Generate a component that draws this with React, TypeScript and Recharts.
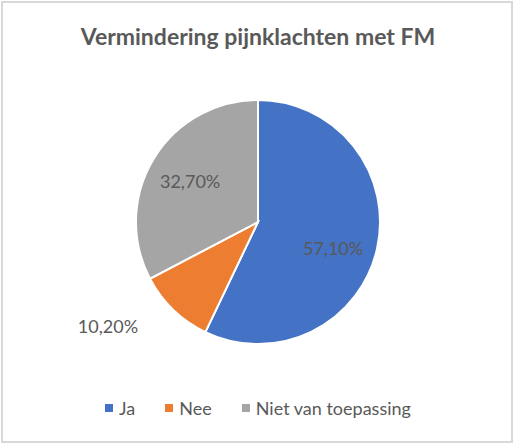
import { PieChart, Pie, Cell, Legend } from 'recharts'

const categories = ['Ja', 'Nee', 'Niet van toepassing']
const shares = [57.1, 10.2, 32.7]
const colors = ['#4472C4', '#ED7D31', '#A5A5A5']

const data = categories.map((name, i) => ({ name, value: shares[i] }))

const RAD = Math.PI / 180
const FONT = 'Lato, "Open Sans", sans-serif'
const TEXT = '#595959'
const LABEL_SIZE = 18

// eslint-disable-next-line @typescript-eslint/no-explicit-any
function SliceLabel(props: any) {
  const { cx, cy, midAngle, outerRadius, value, index } = props
  const label = value.toFixed(2).replace('.', ',') + '%'
  if (index === 1) {
    // small slice: Excel puts it outside, bottom-left
    const r = outerRadius + 22
    const x = cx + r * Math.cos(-midAngle * RAD) - 20
    const y = cy + r * Math.sin(-midAngle * RAD)
    return (
      <text x={x} y={y} textAnchor="end" dominantBaseline="central" fill={TEXT} fontSize={LABEL_SIZE} fontFamily={FONT}>
        {label}
      </text>
    )
  }
  // Excel's best-fit nudges the big slice's label a bit lower
  const angle = index === 0 ? midAngle - 6 : midAngle
  const r = outerRadius * 0.65
  const x = cx + r * Math.cos(-angle * RAD)
  const y = cy + r * Math.sin(-angle * RAD)
  return (
    <text x={x} y={y} textAnchor="middle" dominantBaseline="central" fill={TEXT} fontSize={LABEL_SIZE} fontFamily={FONT}>
      {label}
    </text>
  )
}

function LegendContent() {
  return (
    <div style={{ display: 'flex', justifyContent: 'center', gap: 30, fontFamily: FONT, fontSize: LABEL_SIZE, color: TEXT }}>
      {categories.map((c, i) => (
        <span key={c} style={{ display: 'flex', alignItems: 'center' }}>
          <span style={{ width: 8, height: 8, background: colors[i], marginRight: 6 }} />
          {c}
        </span>
      ))}
    </div>
  )
}

export default function App() {
  return (
    <div style={{ position: 'fixed', left: 0, top: 0, width: 516, height: 445, background: '#fff' }}>
      <div
        style={{
          position: 'absolute', left: 1, top: 1, width: 512, height: 442,
          border: '2px solid #D9D9D9', boxSizing: 'border-box',
        }}
      />
      <div
        style={{
          position: 'absolute', left: 0, top: 22, width: 516, textAlign: 'center',
          fontFamily: FONT, fontWeight: 700, fontSize: 23, color: TEXT,
        }}
      >
        Vermindering pijnklachten met FM
      </div>
      <div style={{ position: 'absolute', left: 0, top: 0 }}>
        <PieChart width={516} height={445} margin={{ top: 0, right: 0, bottom: 0, left: 0 }}>
          <Pie
            data={data}
            dataKey="value"
            nameKey="name"
            cx={258}
            cy={222}
            outerRadius={122}
            startAngle={90}
            endAngle={-270}
            stroke="#fff"
            strokeWidth={2}
            label={SliceLabel}
            labelLine={false}
            isAnimationActive={false}
          >
            {data.map((d, i) => (
              <Cell key={d.name} fill={colors[i]} />
            ))}
          </Pie>
          <Legend
            content={<LegendContent />}
            verticalAlign="bottom"
            wrapperStyle={{ top: 397, bottom: 'auto', left: 0, width: 516 }}
          />
        </PieChart>
      </div>
    </div>
  )
}
